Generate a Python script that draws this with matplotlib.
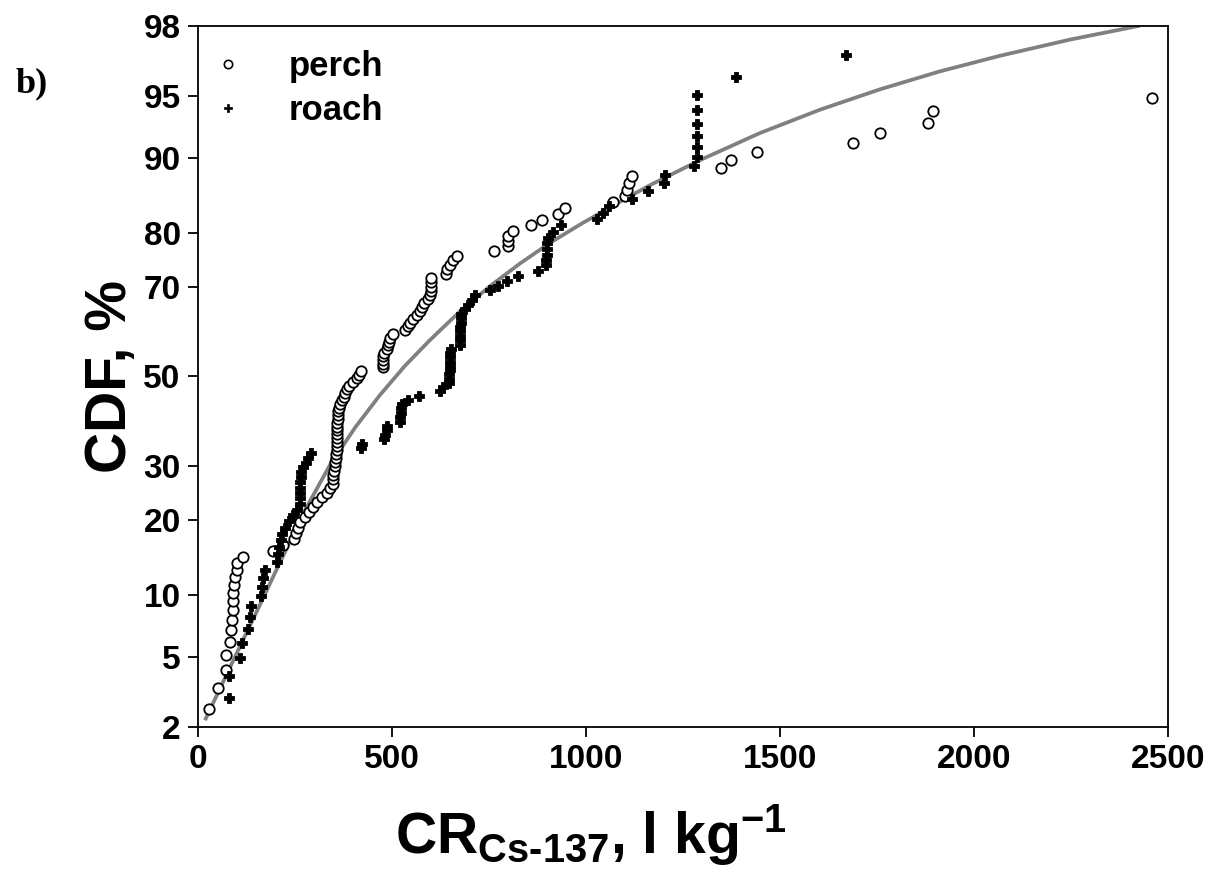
import numpy as np
import matplotlib
matplotlib.use("Agg")
import matplotlib.pyplot as plt
from matplotlib.lines import Line2D
from statistics import NormalDist

# ---------------- data ----------------
perch_cr = [28, 52, 71, 71, 82, 86, 87, 89, 89, 91, 94, 96, 100, 101, 115, 194, 220, 248,
            253, 257, 263, 276, 287, 297, 306, 319, 332, 340, 347, 347, 349, 350, 353, 354,
            356, 356, 357, 357, 357, 358, 358, 358, 359, 359, 360, 360, 361, 363, 367, 371,
            375, 379, 384, 389, 399, 410, 415, 419, 477, 477, 478, 478, 479, 487, 490, 492,
            496, 502, 533, 541, 546, 553, 564, 572, 577, 582, 593, 599, 600, 600, 600, 600,
            639, 643, 649, 657, 668, 763, 800, 800, 800, 813, 857, 887, 929, 946, 1069, 1100,
            1105, 1112, 1118, 1348, 1374, 1441, 1687, 1758, 1881, 1895, 2458]
perch_cdf = [2.56, 3.42, 4.27, 5.13, 5.98, 6.84, 7.69, 8.55, 9.40, 10.26, 11.11, 11.97, 12.82,
             13.68, 14.53, 15.38, 16.24, 17.09, 17.95, 18.80, 19.66, 20.51, 21.37, 22.22,
             23.08, 23.93, 24.79, 25.64, 26.50, 27.35, 28.21, 29.06, 29.91, 30.77, 31.62,
             32.48, 33.33, 34.19, 35.04, 35.90, 36.75, 37.61, 38.46, 39.32, 40.17, 41.03,
             41.88, 42.74, 43.59, 44.44, 45.30, 46.15, 47.01, 47.86, 48.72, 49.57, 50.43,
             51.28, 52.14, 52.99, 53.85, 54.70, 55.56, 56.41, 57.26, 58.12, 58.97, 59.83,
             60.68, 61.54, 62.39, 63.25, 64.10, 64.96, 65.81, 66.67, 67.52, 68.38, 69.23,
             70.09, 70.94, 71.79, 72.65, 73.50, 74.36, 75.21, 76.07, 76.92, 77.78, 78.63,
             79.49, 80.34, 81.20, 82.05, 82.91, 83.76, 84.62, 85.47, 86.32, 87.18, 88.03,
             88.89, 89.74, 90.60, 91.45, 92.31, 93.16, 94.02, 94.87]

roach_cr = [80, 80, 108, 113, 130, 134, 137, 162, 165, 168, 172, 203, 206, 210, 213, 217, 225,
            235, 246, 255, 262, 263, 263, 264, 264, 265, 265, 271, 278, 284, 290, 420, 423,
            480, 483, 486, 488, 520, 521, 522, 523, 525, 542, 570, 624, 631, 647, 648, 648,
            649, 649, 650, 650, 650, 651, 674, 675, 675, 676, 676, 677, 677, 678, 688, 697,
            705, 714, 753, 774, 797, 825, 877, 897, 898, 899, 899, 900, 901, 916, 935, 1029,
            1045, 1058, 1118, 1161, 1201, 1204, 1278, 1287, 1287, 1287, 1287, 1287, 1287,
            1387, 1670]
roach_cdf = [2.97, 3.96, 4.95, 5.94, 6.93, 7.92, 8.91, 9.90, 10.89, 11.88, 12.87, 13.86, 14.85,
             15.84, 16.83, 17.82, 18.81, 19.80, 20.79, 21.78, 22.77, 23.76, 24.75, 25.74,
             26.73, 27.72, 28.71, 29.70, 30.69, 31.68, 32.67, 33.66, 34.65, 35.64, 36.63,
             37.62, 38.61, 39.60, 40.59, 41.58, 42.57, 43.56, 44.55, 45.54, 46.53, 47.52,
             48.51, 49.50, 50.50, 51.49, 52.48, 53.47, 54.46, 55.45, 56.44, 57.43, 58.42,
             59.41, 60.40, 61.39, 62.38, 63.37, 64.36, 65.35, 66.34, 67.33, 68.32, 69.31,
             70.30, 71.29, 72.28, 73.27, 74.26, 75.25, 76.24, 77.23, 78.22, 79.21, 80.20,
             81.19, 82.18, 83.17, 84.16, 85.15, 86.14, 87.13, 88.12, 89.11, 90.10, 91.09,
             92.08, 93.07, 94.06, 95.05, 96.04, 97.03]

fit_cr = [18, 82, 147, 211, 276, 340, 405, 469, 533, 598, 675, 753, 830, 907, 985, 1075,
          1165, 1294, 1448, 1603, 1758, 1912, 2067, 2247, 2428]
fit_cdf = [2.20, 4.40, 8.11, 13.78, 21.70, 30.19, 38.25, 45.68, 52.46, 58.47, 64.84, 70.21,
           74.61, 78.31, 81.35, 84.33, 86.89, 89.76, 92.31, 94.10, 95.38, 96.31, 96.99,
           97.58, 98.01]

y_ticks = [2, 5, 10, 20, 30, 50, 70, 80, 90, 95, 98]
x_ticks = [0, 500, 1000, 1500, 2000, 2500]

# ---------------- probability (probit) scale ----------------
_nd = NormalDist()


def _fwd(p):
    p = np.asarray(p, dtype=float)
    q = np.clip(p / 100.0, 1e-9, 1 - 1e-9)
    return np.vectorize(_nd.inv_cdf, otypes=[float])(q) if q.size else q


def _inv(z):
    z = np.asarray(z, dtype=float)
    return np.vectorize(_nd.cdf, otypes=[float])(z) * 100.0 if z.size else z


plt.rcParams['font.family'] = ['Liberation Sans', 'DejaVu Sans']
plt.rcParams['font.weight'] = 'bold'
plt.rcParams['mathtext.fontset'] = 'custom'
plt.rcParams['mathtext.rm'] = 'Liberation Sans:bold'
plt.rcParams['mathtext.bf'] = 'Liberation Sans:bold'
plt.rcParams['mathtext.it'] = 'Liberation Sans:bold'

fig = plt.figure(figsize=(12.18, 8.80), dpi=100)
ax = fig.add_axes([198 / 1218, 1 - 727 / 880, (1168 - 198) / 1218, (727 - 26) / 880])

ax.set_yscale('function', functions=(_fwd, _inv))

ax.plot(fit_cr, fit_cdf, color='#808080', lw=2.7, solid_capstyle='butt',
        solid_joinstyle='round', zorder=2)
ax.plot(perch_cr, perch_cdf, ls='none', marker='o', ms=7.5, mfc='white', mec='black',
        mew=1.3, zorder=3)
ax.plot(roach_cr, roach_cdf, ls='none', marker='P', ms=7, mfc='black', mec='black',
        mew=0.6, zorder=4)

ax.set_xlim(0, 2500)
ax.set_ylim(2, 98)
ax.set_xticks(x_ticks)
ax.set_xticklabels([str(v) for v in x_ticks])
ax.set_yticks(y_ticks)
ax.set_yticklabels([str(v) for v in y_ticks])
ax.yaxis.set_minor_locator(matplotlib.ticker.NullLocator())
ax.xaxis.set_minor_locator(matplotlib.ticker.NullLocator())

ax.tick_params(axis='both', direction='out', length=7.5, width=1.3, labelsize=24, pad=5)
ax.tick_params(top=False, right=False)
for sp in ax.spines.values():
    sp.set_linewidth(1.3)
for lab in ax.get_xticklabels() + ax.get_yticklabels():
    lab.set_fontweight('bold')

ax.set_ylabel('CDF, %', fontsize=41, fontweight='bold')
ax.yaxis.set_label_coords(-0.062, 0.5)
ax.set_xlabel('CR$_{\\mathrm{Cs\u2010137}}$, l kg$^{\\mathrm{-1}}$', fontsize=41,
              fontweight='bold', labelpad=19)
ax.xaxis.label.set_x(0.405)

handles = [Line2D([], [], ls='none', marker='o', ms=6, mfc='white', mec='black', mew=1.2),
           Line2D([], [], ls='none', marker='P', ms=5.5, mfc='black', mec='black', mew=0.5)]
leg = ax.legend(handles, ['perch', 'roach'], loc='upper left', frameon=False,
                prop={'size': 25, 'weight': 'bold'}, handletextpad=1.2,
                bbox_to_anchor=(0.0, 0.981), borderaxespad=0.1, borderpad=0.2,
                labelspacing=0.33, handlelength=1.1)

fig.text(32 / 1218, 1 - 84 / 880, 'b)', fontsize=26, fontweight='bold',
         family=['Liberation Serif', 'DejaVu Serif'], va='center', ha='center')

fig.savefig('out.png', dpi=100)
